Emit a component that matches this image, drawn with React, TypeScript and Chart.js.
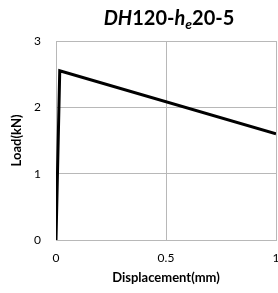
import React, { useEffect, useRef } from "react";
import { Chart, registerables } from "chart.js";

Chart.register(...registerables);

const xValues = [0, 0.017, 1];
const loadValues = [0, 2.55, 1.6];
const xTicks = [0, 0.5, 1];
const xTickLabels = ["0", "0.5", "1"];
const yTicks = [0, 1, 2, 3];
const titleParts = [
  { text: "DH", italic: true, sub: false },
  { text: "120-", italic: false, sub: false },
  { text: "h", italic: true, sub: false },
  { text: "e", italic: true, sub: true },
  { text: "20-5", italic: false, sub: false },
];

const FONT = "Lato, 'Open Sans', sans-serif";

const titlePlugin = {
  id: "subTitle",
  afterDraw(chart: any) {
    const ctx = chart.ctx;
    const area = chart.chartArea;
    const size = 20;
    const subSize = 14;
    ctx.save();
    const fontFor = (p: any) =>
      `${p.italic ? "italic " : ""}bold ${p.sub ? subSize : size}px ${FONT}`;
    let total = 0;
    for (const p of titleParts) {
      ctx.font = fontFor(p);
      total += ctx.measureText(p.text).width;
    }
    let x = (area.left + area.right) / 2 - total / 2 + 3;
    const baseline = 25;
    ctx.fillStyle = "#000";
    ctx.textBaseline = "alphabetic";
    ctx.textAlign = "left";
    for (const p of titleParts) {
      ctx.font = fontFor(p);
      ctx.fillText(p.text, x, p.sub ? baseline + 4 : baseline);
      x += ctx.measureText(p.text).width;
    }
    ctx.restore();
  },
};

export default function App() {
  const ref = useRef<HTMLCanvasElement | null>(null);
  useEffect(() => {
    if (!ref.current) return;
    const chart = new Chart(ref.current, {
      type: "line",
      data: {
        datasets: [
          {
            data: xValues.map((x, i) => ({ x, y: loadValues[i] })),
            borderColor: "#000",
            borderWidth: 3,
            pointRadius: 0,
            tension: 0,
            fill: false,
          },
        ],
      },
      options: {
        responsive: false,
        animation: false,
        layout: { padding: { left: 0, right: 2, top: 41, bottom: 0 } },
        plugins: { legend: { display: false }, tooltip: { enabled: false } },
        scales: {
          x: {
            type: "linear",
            min: 0,
            max: 1,
            afterBuildTicks(scale: any) {
              scale.ticks = xTicks.map((v) => ({ value: v }));
            },
            afterFit(scale: any) {
              scale.height = 53;
              scale.paddingLeft = 0;
              scale.paddingRight = 0;
            },
            grid: { color: "#b8b8b8", drawTicks: false, lineWidth: 1 },
            border: { color: "#b8b8b8" },
            ticks: {
              padding: 11,
              color: "#000",
              font: { family: FONT, size: 12 },
              maxRotation: 0,
              callback: (v: any) => {
                const i = xTicks.indexOf(Number(v));
                return i >= 0 ? xTickLabels[i] : "";
              },
            },
            title: {
              display: true,
              text: "Displacement(mm)",
              color: "#000",
              font: { family: FONT, size: 13, weight: "bold" },
              padding: { top: 0, bottom: 7 },
            },
          },
          y: {
            type: "linear",
            min: 0,
            max: 3,
            afterBuildTicks(scale: any) {
              scale.ticks = yTicks.map((v) => ({ value: v }));
            },
            afterFit(scale: any) {
              scale.width = 56;
              scale.paddingTop = 0;
              scale.paddingBottom = 0;
            },
            grid: { color: "#b8b8b8", drawTicks: false, lineWidth: 1 },
            border: { color: "#b8b8b8" },
            ticks: {
              padding: 15,
              color: "#000",
              font: { family: FONT, size: 12 },
            },
            title: {
              display: true,
              text: "Load(kN)",
              color: "#000",
              font: { family: FONT, size: 13, weight: "bold" },
              padding: { top: 9, bottom: 0 },
            },
          },
        },
      },
      plugins: [titlePlugin],
    });
    return () => chart.destroy();
  }, []);
  return (
    <div style={{ position: "fixed", left: 0, top: 0, width: 278, height: 293, background: "#fff" }}>
      <canvas ref={ref} width={278} height={293} style={{ display: "block" }} />
    </div>
  );
}
